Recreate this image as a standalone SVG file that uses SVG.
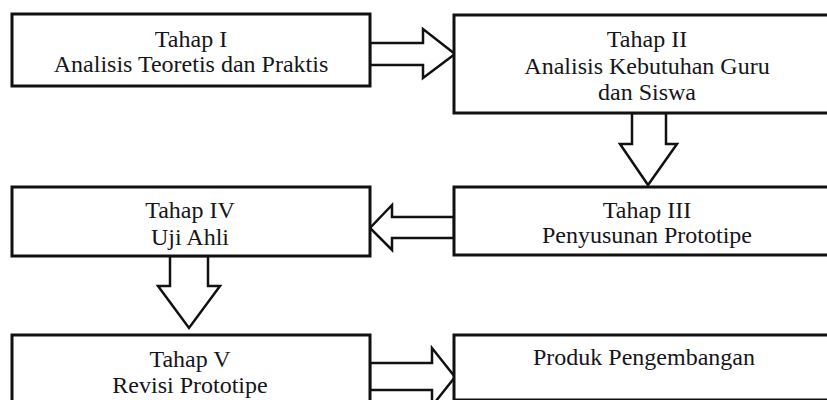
<svg xmlns="http://www.w3.org/2000/svg" width="827" height="400" viewBox="0 0 827 400">
<style>
.box{fill:#fff;stroke:#111;stroke-width:3}
.arr{fill:#fff;stroke:#111;stroke-width:2.5;stroke-linejoin:miter}
text{font-family:"Liberation Serif","Times New Roman",serif;font-size:24px;fill:#151520;text-anchor:middle}
</style>
<rect width="827" height="400" fill="#fff"/>
<g id="connectors">
<polygon class="arr" points="370,43 423,43 423,29 455,54 423,78 423,65 370,65"/>
<polygon class="arr" points="632,113 632,144 620,144 648,185 677,144 666,144 666,113"/>
<polygon class="arr" points="454,217 392,217 392,205 370,228 392,250 392,238 454,238"/>
<polygon class="arr" points="170,256 170,286 158,286 189,328 220,286 208,286 208,256"/>
<polygon class="arr" points="370,363 432,363 432,348 455,377 432,406 432,390 370,390"/>
</g>
<g id="n1">
<rect class="box" x="12" y="14" width="358" height="72"/>
<text x="191" y="47">Tahap I</text>
<text x="191" y="72">Analisis Teoretis dan Praktis</text>
</g>
<g id="n2">
<rect class="box" x="454" y="15" width="400" height="98"/>
<text x="647" y="47">Tahap II</text>
<text x="647" y="74">Analisis Kebutuhan Guru</text>
<text x="647" y="100">dan Siswa</text>
</g>
<g id="n3">
<rect class="box" x="454" y="187" width="400" height="68"/>
<text x="647" y="218">Tahap III</text>
<text x="647" y="243">Penyusunan Prototipe</text>
</g>
<g id="n4">
<rect class="box" x="12" y="187" width="358" height="69"/>
<text x="190" y="218">Tahap IV</text>
<text x="190" y="245">Uji Ahli</text>
</g>
<g id="n5">
<rect class="box" x="12" y="335" width="358" height="100"/>
<text x="190" y="367">Tahap V</text>
<text x="190" y="393">Revisi Prototipe</text>
</g>
<g id="n6">
<rect class="box" x="454" y="335" width="400" height="65"/>
<text x="644" y="365">Produk Pengembangan</text>
</g>
</svg>
